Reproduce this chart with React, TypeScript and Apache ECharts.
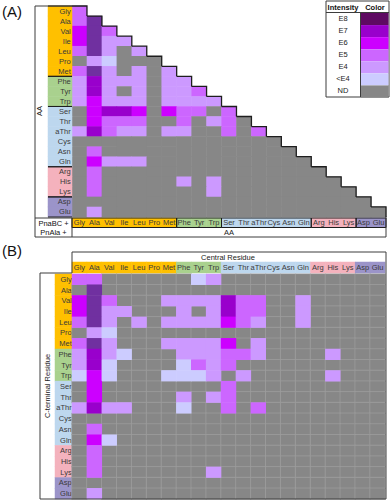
import React, { useEffect, useRef } from "react";
import * as echarts from "echarts";

const AMINO_ACIDS = ["Gly","Ala","Val","Ile","Leu","Pro","Met","Phe","Tyr","Trp","Ser","Thr","aThr","Cys","Asn","Gln","Arg","His","Lys","Asp","Glu"];
const AA_GROUP = [0,0,0,0,0,0,0,1,1,1,2,2,2,2,2,2,3,3,3,4,4];
const GROUP_COLORS = ["#ffc000","#a9d18e","#bdd7ee","#f4b2bd","#9b94c9"];

// intensity codes: 8=E8, 7=E7, 6=E6, 5=E5, 4=E4, 3=<E4, 0=ND
const INTENSITY_CODES = [8,7,6,5,4,3,0];
const INTENSITY_LABELS = ["E8","E7","E6","E5","E4","<E4","ND"];
const CELL_COLORS = ["#7030a0","#9900cc","#cc00ff","#cc66ff","#cc99ff","#ccccff","#878787"];
const LEGEND_SWATCH_COLORS = ["#5e0a62","#9900cc","#cc00ff","#cc66ff","#cc99ff","#ccccff","#878787"];

// Panel A: lower triangle, row i has columns 0..i
const PANEL_A_ROWS = [
  [5],
  [5,8],
  [6,8,5],
  [6,8,4,4],
  [5,8,4,0,4],
  [0,4,3,0,0,0],
  [5,8,4,0,4,0,4],
  [4,7,4,4,4,0,4,4],
  [4,7,4,0,4,0,4,4,5],
  [4,6,4,4,4,0,4,4,4,4],
  [0,6,7,7,6,0,6,5,5,0,5],
  [0,6,5,5,5,0,0,5,0,4,5,0],
  [4,7,5,4,4,0,4,4,0,0,5,0,5],
  [0,0,0,0,0,0,0,0,0,0,0,0,0,0],
  [0,5,0,0,0,0,0,0,0,0,0,0,0,0,0],
  [0,6,4,4,4,0,0,0,0,0,0,0,0,0,0,0],
  [0,5,0,0,0,0,0,0,0,0,0,0,0,0,0,0,0],
  [0,5,0,0,0,0,0,4,0,4,0,0,0,0,0,0,0,0],
  [0,5,0,0,0,0,0,0,0,4,0,0,0,0,0,0,0,0,0],
  [0,0,0,0,0,0,0,0,0,0,0,0,0,0,0,0,0,0,0,0],
  [0,4,0,0,0,0,0,0,0,0,0,0,0,0,0,0,0,0,0,0,0],
];

// Panel B: rows = C-terminal residue, columns = central residue
const PANEL_B_ROWS = [
  [5,5,0,0,0,0,0,0,3,4,0,0,0,0,0,0,0,0,0,0,0],
  [0,8,0,0,0,0,0,0,0,0,0,0,0,0,0,0,0,0,0,0,0],
  [6,8,5,0,0,0,4,4,4,4,7,5,5,0,0,4,0,0,0,0,0],
  [6,8,4,4,0,0,0,4,0,4,7,5,5,0,0,4,0,0,0,0,0],
  [5,8,4,0,4,0,4,4,4,4,6,5,4,0,0,4,0,0,0,0,0],
  [0,4,3,0,0,0,0,0,0,0,0,0,0,0,0,0,0,0,0,0,0],
  [5,8,4,0,0,0,4,4,4,4,6,0,4,0,0,0,0,0,0,0,0],
  [4,7,4,3,0,0,0,4,4,4,5,5,4,0,0,0,0,4,0,0,0],
  [4,7,3,0,0,0,0,3,5,4,5,0,0,0,0,0,0,0,0,0,0],
  [3,6,3,0,0,0,3,3,3,4,0,4,0,0,0,0,0,4,0,0,0],
  [0,6,0,0,0,0,0,0,0,0,5,0,0,0,0,0,0,0,0,0,0],
  [0,6,0,0,0,0,0,4,0,4,5,0,0,0,0,0,0,0,0,0,0],
  [4,7,4,4,0,0,0,3,0,0,5,0,5,0,0,0,0,0,0,0,0],
  [0,0,0,0,0,0,0,0,0,0,0,0,0,0,0,0,0,0,0,0,0],
  [0,5,0,0,0,0,0,0,0,0,0,0,0,0,0,0,0,0,0,0,0],
  [0,6,3,0,0,0,0,0,0,0,0,0,0,0,0,0,0,0,0,0,0],
  [0,5,0,0,0,0,0,0,0,0,0,0,0,0,0,0,0,0,0,0,0],
  [0,5,0,0,0,0,0,0,0,0,0,0,0,0,0,0,0,0,0,0,0],
  [0,5,0,0,0,0,0,0,0,4,0,0,0,0,0,0,0,0,0,0,0],
  [0,0,0,0,0,0,0,0,0,0,0,0,0,0,0,0,0,0,0,0,0],
  [0,4,0,0,0,0,0,0,0,0,0,0,0,0,0,0,0,0,0,0,0],
];

const FONT = "Liberation Sans, Arial, sans-serif";
const LABEL_COLOR = "#3a3a3a";
const FRAME = "#3c3c3c";

function buildOption() {
  const aData: number[][] = [];
  PANEL_A_ROWS.forEach((row, y) => row.forEach((v, x) => aData.push([x, y, v])));
  const bColored: number[][] = [];
  const bNd: number[][] = [];
  PANEL_B_ROWS.forEach((row, y) =>
    row.forEach((v, x) => (v === 0 ? bNd : bColored).push([x, y, v]))
  );
  const spans: number[][] = [];
  AA_GROUP.forEach((g, i) => {
    const last = spans[spans.length - 1];
    if (last && last[1] === g) last[2] = i;
    else spans.push([i, g, i]);
  });
  const rowBand = AMINO_ACIDS.map((_, i) => [0, i, AA_GROUP[i]]);
  const colBand = AMINO_ACIDS.map((_, i) => [i, 0, AA_GROUP[i]]);

  const cat = (gridIndex: number, data: string[], inverse = false) => ({
    gridIndex, type: "category", data, inverse, show: false,
    axisLine: { show: false }, axisTick: { show: false }, splitLine: { show: false },
  });

  const bandLabelRow = {
    show: true,
    position: "insideRight",
    distance: 1.5,
    fontSize: 7.5,
    fontFamily: FONT,
    color: LABEL_COLOR,
  };
  const bandLabelCol = {
    show: true,
    position: "inside",
    fontSize: 7.5,
    fontFamily: FONT,
    color: LABEL_COLOR,
  };

  const graphic: any[] = [];
  const line = (x1: number, y1: number, x2: number, y2: number, stroke = FRAME, w = 1) =>
    graphic.push({ type: "line", shape: { x1, y1, x2, y2 }, style: { stroke, lineWidth: w }, z: 100 });
  const text = (t: string, x: number, y: number, size: number, opts: any = {}) =>
    graphic.push({
      type: "text", x, y, rotation: opts.rotation || 0, z: 101,
      style: {
        text: t, fontSize: size, fontFamily: FONT, fontWeight: opts.bold ? "bold" : "normal",
        fill: opts.fill || "#222", textAlign: opts.align || "center", textVerticalAlign: "middle",
      },
    });

  // Panel A frame
  text("(A)", 2, 11, 15, { align: "left", fill: "#111" });
  line(35, 6, 72, 6);
  line(35, 6, 35, 237);
  line(35, 237, 386, 237);
  line(386, 216, 386, 237);
  line(35, 218, 72, 218);
  line(72, 218, 72, 237);
  text("AA", 39, 111, 7.5, { rotation: Math.PI / 2 });
  text("PnaBC +", 53.5, 223, 7.5, { fill: "#111" });
  text("PnAla +", 53.5, 232.5, 7.5, { fill: "#111" });
  text("AA", 229, 232.5, 7.5);

  // Legend
  graphic.push({ type: "rect", shape: { x: 326, y: 1, width: 63, height: 96 }, style: { fill: "#fff", stroke: FRAME, lineWidth: 1 }, z: 99 });
  line(326, 12.5, 389, 12.5);
  line(360.5, 12.5, 360.5, 97);
  text("Intensity", 343, 7, 7.5, { bold: true, fill: "#111" });
  text("Color", 375, 7, 7.5, { bold: true, fill: "#111" });
  const rowH = (97 - 12.5) / INTENSITY_LABELS.length;
  INTENSITY_LABELS.forEach((lab, k) => {
    const y0 = 12.5 + rowH * k;
    graphic.push({ type: "rect", shape: { x: 361, y: y0 + 0.5, width: 27.5, height: rowH }, style: { fill: LEGEND_SWATCH_COLORS[k] }, z: 100 });
    text(lab, 343, y0 + rowH / 2, 7.5, { fill: "#222" });
  });

  // Panel B frame
  text("(B)", 2, 250, 15, { align: "left", fill: "#111" });
  line(72, 252, 386, 252);
  line(72, 252, 72, 273);
  line(40, 273, 72, 273);
  line(40, 273, 40, 499);
  line(40, 499, 386, 499);
  line(386, 252, 386, 499);
  text("Central Residue", 228, 257, 7.5);
  text("C-terminal Residue", 47, 386, 7.5, { rotation: Math.PI / 2 });

  return {
    animation: false,
    textStyle: { fontFamily: FONT },
    grid: [
      { left: 72, top: 6, width: 314, height: 211 },
      { left: 48, top: 6, width: 24, height: 211 },
      { left: 72, top: 218, width: 314, height: 9.5 },
      { left: 72, top: 274, width: 313, height: 225 },
      { left: 55, top: 274, width: 17, height: 225 },
      { left: 72, top: 262, width: 313, height: 11 },
    ],
    xAxis: [
      cat(0, AMINO_ACIDS), cat(1, [""]), cat(2, AMINO_ACIDS),
      cat(3, AMINO_ACIDS), cat(4, [""]), cat(5, AMINO_ACIDS),
    ],
    yAxis: [
      cat(0, AMINO_ACIDS, true), cat(1, AMINO_ACIDS, true), cat(2, [""]),
      cat(3, AMINO_ACIDS, true), cat(4, AMINO_ACIDS, true), cat(5, [""]),
    ],
    visualMap: [
      {
        type: "piecewise", show: false, dimension: 2, seriesIndex: [0, 1, 2],
        pieces: INTENSITY_CODES.map((v, i) => ({ value: v, color: CELL_COLORS[i] })),
      },
      {
        type: "piecewise", show: false, dimension: 2, seriesIndex: [3, 4, 5, 6],
        pieces: GROUP_COLORS.map((c, i) => ({ value: i, color: c })),
      },
    ],
    series: [
      { type: "heatmap", xAxisIndex: 0, yAxisIndex: 0, data: aData, emphasis: { disabled: true } },
      { type: "heatmap", xAxisIndex: 3, yAxisIndex: 3, data: bColored, emphasis: { disabled: true }, z: 3 },
      {
        type: "heatmap", xAxisIndex: 3, yAxisIndex: 3, data: bNd, emphasis: { disabled: true }, z: 2,
        itemStyle: { borderColor: "#a3a3a3", borderWidth: 0.6 },
      },
      {
        type: "heatmap", xAxisIndex: 1, yAxisIndex: 1, data: rowBand, emphasis: { disabled: true },
        label: { ...bandLabelRow, formatter: (p: any) => AMINO_ACIDS[p.value[1]] },
      },
      {
        type: "heatmap", xAxisIndex: 2, yAxisIndex: 2, data: colBand, emphasis: { disabled: true },
        label: { ...bandLabelCol, formatter: (p: any) => AMINO_ACIDS[p.value[0]] },
      },
      {
        type: "heatmap", xAxisIndex: 4, yAxisIndex: 4, data: rowBand, emphasis: { disabled: true }, z: 1,
        label: { ...bandLabelRow, distance: 0.5, formatter: (p: any) => AMINO_ACIDS[p.value[1]] },
      },
      {
        type: "heatmap", xAxisIndex: 5, yAxisIndex: 5, data: colBand, emphasis: { disabled: true },
        label: { ...bandLabelCol, formatter: (p: any) => AMINO_ACIDS[p.value[0]] },
      },
      {
        type: "custom", xAxisIndex: 0, yAxisIndex: 0, z: 10, silent: true,
        data: AMINO_ACIDS.map((_, i) => [i, i]),
        renderItem: (_p: any, api: any) => {
          const i = api.value(0);
          const c = api.coord([i, i]);
          const s = api.size([1, 1]);
          const l = c[0] - s[0] / 2, r = c[0] + s[0] / 2, t = c[1] - s[1] / 2, b = c[1] + s[1] / 2;
          return {
            type: "polyline",
            shape: { points: [[l, t], [r, t], [r, b]] },
            style: { stroke: "#1e1e1e", lineWidth: 1.3, fill: null },
          };
        },
      },
      {
        type: "custom", xAxisIndex: 2, yAxisIndex: 2, z: 10, silent: true,
        data: spans.map((s) => [s[0], 0, s[2]]),
        encode: { x: 0, y: 1 },
        renderItem: (_p: any, api: any) => {
          const a = api.coord([api.value(0), 0]);
          const b = api.coord([api.value(2), 0]);
          const s = api.size([1, 1]);
          return {
            type: "rect",
            shape: { x: a[0] - s[0] / 2, y: a[1] - s[1] / 2, width: b[0] - a[0] + s[0], height: s[1] },
            style: { stroke: "#1e1e1e", lineWidth: 1, fill: null },
          };
        },
      },
      {
        type: "custom", xAxisIndex: 1, yAxisIndex: 1, z: 10, silent: true,
        data: spans.map((s) => [0, s[0], s[2]]),
        encode: { x: 0, y: 1 },
        renderItem: (_p: any, api: any) => {
          const a = api.coord([0, api.value(1)]);
          const b = api.coord([0, api.value(2)]);
          const s = api.size([1, 1]);
          const l = a[0] - s[0] / 2, r = a[0] + s[0] / 2;
          const t = a[1] - s[1] / 2, bt = b[1] + s[1] / 2;
          return {
            type: "group",
            children: [
              { type: "line", shape: { x1: l, y1: t, x2: r, y2: t }, style: { stroke: "#1e1e1e", lineWidth: 1 } },
              { type: "line", shape: { x1: l, y1: bt, x2: r, y2: bt }, style: { stroke: "#1e1e1e", lineWidth: 1 } },
            ],
          };
        },
      },
    ],
    graphic,
  };
}

export default function App() {
  const ref = useRef<HTMLDivElement>(null);
  useEffect(() => {
    if (!ref.current) return;
    const chart = echarts.init(ref.current, null, { renderer: "svg" });
    chart.setOption(buildOption() as any);
    return () => chart.dispose();
  }, []);
  return (
    <div
      ref={ref}
      style={{ position: "absolute", left: 0, top: 0, width: 390, height: 500, background: "#fff" }}
    />
  );
}
